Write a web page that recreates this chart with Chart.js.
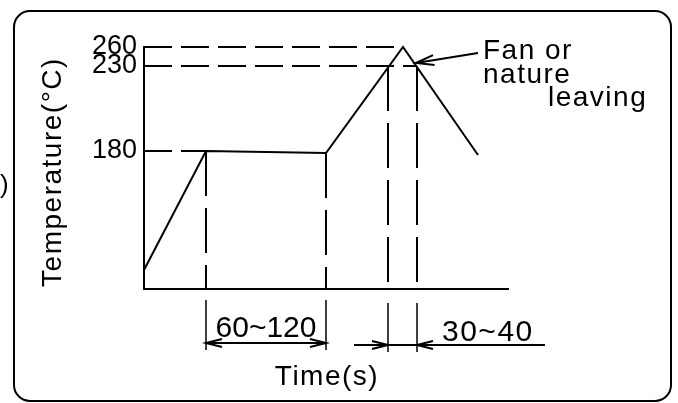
<!DOCTYPE html>
<html>
<head>
<meta charset="utf-8">
<script src="https://cdn.jsdelivr.net/npm/chart.js@4"></script>
<style>
  html, body { margin: 0; padding: 0; background: #fff; }
  #wrap { width: 678px; height: 403px; }
</style>
</head>
<body>
<div id="wrap"><canvas id="profileChart" width="678" height="403"></canvas></div>
<script>
// the source drawing is schematic, not to scale: values are drawn heights/positions
const profileTime = [0, 62, 182, 259, 334];
const profileTemp = [19, 138, 136, 242, 134];

const tempTickLabels = ["180", "230", "260"];
const tempTickLevels = [138, 223, 242];
const levelGuideEnds = [62, 273, 259]; // where each dashed level line stops

const guideTimes = [62, 182, 244, 273];
const guideTops = [138, 136, 223, 223];

const spanLabels = ["60~120", "30~40"];
const noteLines = ["Fan or", "nature", "leaving"];

const FONT = "'Liberation Sans', 'DejaVu Sans', sans-serif";

function dashed(points, dash) {
  return {
    data: points,
    showLine: true,
    borderColor: "#000",
    borderWidth: 2,
    borderDash: dash,
    pointRadius: 0,
    clip: false,
  };
}

const datasets = [
  {
    data: profileTime.map((t, i) => ({ x: t, y: profileTemp[i] })),
    showLine: true,
    borderColor: "#000",
    borderWidth: 2,
    pointRadius: 0,
    clip: false,
  },
];
tempTickLevels.forEach((lv, i) => {
  datasets.push(dashed([{ x: 0, y: lv }, { x: levelGuideEnds[i], y: lv }], [28, 9]));
});
guideTimes.forEach((t, i) => {
  datasets.push(dashed([{ x: t, y: guideTops[i] }, { x: t, y: 0 }], [45, 12]));
});

function arrowHead(ctx, x, y, dir, len, half) {
  // dir: angle the arrow points to
  ctx.beginPath();
  ctx.moveTo(x + Math.cos(dir + Math.PI) * len - Math.sin(dir) * half,
             y + Math.sin(dir + Math.PI) * len + Math.cos(dir) * half);
  ctx.lineTo(x, y);
  ctx.lineTo(x + Math.cos(dir + Math.PI) * len + Math.sin(dir) * half,
             y + Math.sin(dir + Math.PI) * len - Math.cos(dir) * half);
  ctx.stroke();
}

const drawing = {
  id: "drawing",
  beforeDraw(chart) {
    const ctx = chart.ctx;
    ctx.save();
    ctx.fillStyle = "#fff";
    ctx.fillRect(0, 0, chart.width, chart.height);
    ctx.strokeStyle = "#000";
    ctx.lineWidth = 2;
    ctx.beginPath();
    ctx.roundRect(14, 11, 657, 390, 16);
    ctx.stroke();
    ctx.restore();
  },
  afterDraw(chart) {
    const ctx = chart.ctx;
    const xs = chart.scales.x;
    const area = chart.chartArea;
    ctx.save();
    ctx.fillStyle = "#000";
    ctx.strokeStyle = "#000";
    ctx.lineWidth = 2;

    // axis titles
    ctx.font = "28px " + FONT;
    ctx.letterSpacing = "1.5px";
    ctx.textAlign = "center";
    ctx.textBaseline = "middle";
    ctx.save();
    ctx.translate(53, 172);
    ctx.rotate(-Math.PI / 2);
    ctx.fillText("Temperature(°C)", 0, 0);
    ctx.restore();
    ctx.fillText("Time(s)", 327, 377);

    // note with leader arrow
    ctx.textAlign = "left";
    ctx.fillText(noteLines[0], 483, 51);
    ctx.fillText(noteLines[1], 483, 75);
    ctx.fillText(noteLines[2], 548, 98);
    ctx.beginPath();
    ctx.moveTo(478, 53);
    ctx.lineTo(416, 63);
    ctx.stroke();
    arrowHead(ctx, 416, 63, Math.atan2(10, -62), 18, 5);

    // dimension lines under the time axis
    const gx = guideTimes.map((t) => xs.getPixelForValue(t));
    ctx.lineWidth = 1.5;
    ctx.beginPath();
    ctx.moveTo(gx[0], area.bottom + 11); ctx.lineTo(gx[0], area.bottom + 61);
    ctx.moveTo(gx[1], area.bottom + 11); ctx.lineTo(gx[1], area.bottom + 61);
    ctx.moveTo(gx[2], area.bottom + 14); ctx.lineTo(gx[2], area.bottom + 63);
    ctx.moveTo(gx[3], area.bottom + 14); ctx.lineTo(gx[3], area.bottom + 63);
    ctx.stroke();

    ctx.lineWidth = 2;
    const y1 = area.bottom + 54;
    ctx.beginPath();
    ctx.moveTo(gx[0], y1); ctx.lineTo(gx[1], y1);
    ctx.stroke();
    arrowHead(ctx, gx[0], y1, Math.PI, 16, 4);
    arrowHead(ctx, gx[1], y1, 0, 16, 4);

    const y2 = area.bottom + 56;
    ctx.beginPath();
    ctx.moveTo(gx[2] - 34, y2); ctx.lineTo(545, y2);
    ctx.stroke();
    arrowHead(ctx, gx[2], y2, 0, 16, 4);
    arrowHead(ctx, gx[3], y2, Math.PI, 16, 4);

    ctx.font = "30px " + FONT;
    ctx.letterSpacing = "0px";
    ctx.textBaseline = "alphabetic";
    ctx.textAlign = "center";
    ctx.fillText(spanLabels[0], (gx[0] + gx[1]) / 2, area.bottom + 48);
    ctx.textAlign = "left";
    ctx.letterSpacing = "1.5px";
    ctx.fillText(spanLabels[1], 442, area.bottom + 52);

    // scan fragment at the left edge
    ctx.letterSpacing = "0px";
    ctx.font = "26px " + FONT;
    ctx.fillText(")", 0, 193);
    ctx.restore();
  },
};

new Chart(document.getElementById("profileChart").getContext("2d"), {
  type: "scatter",
  data: { datasets: datasets },
  plugins: [drawing],
  options: {
    responsive: false,
    animation: false,
    layout: { padding: { left: 0, top: 47, right: 170, bottom: 114 } },
    plugins: { legend: { display: false }, tooltip: { enabled: false } },
    scales: {
      x: {
        type: "linear",
        min: 0,
        max: 364,
        grid: { display: false, drawTicks: false },
        border: { display: true, color: "#000", width: 2 },
        ticks: { display: false },
        afterFit(scale) { scale.height = 0; },
      },
      y: {
        type: "linear",
        min: 0,
        max: 242,
        grid: { display: false, drawTicks: false },
        border: { display: true, color: "#000", width: 2 },
        afterBuildTicks(scale) {
          scale.ticks = tempTickLevels.map((v) => ({ value: v }));
        },
        afterFit(scale) { scale.width = 144; },
        ticks: {
          padding: 7,
          color: "#000",
          font: { family: FONT, size: 27 },
          callback: (v) => tempTickLabels[tempTickLevels.indexOf(v)],
        },
      },
    },
  },
});
</script>
</body>
</html>
